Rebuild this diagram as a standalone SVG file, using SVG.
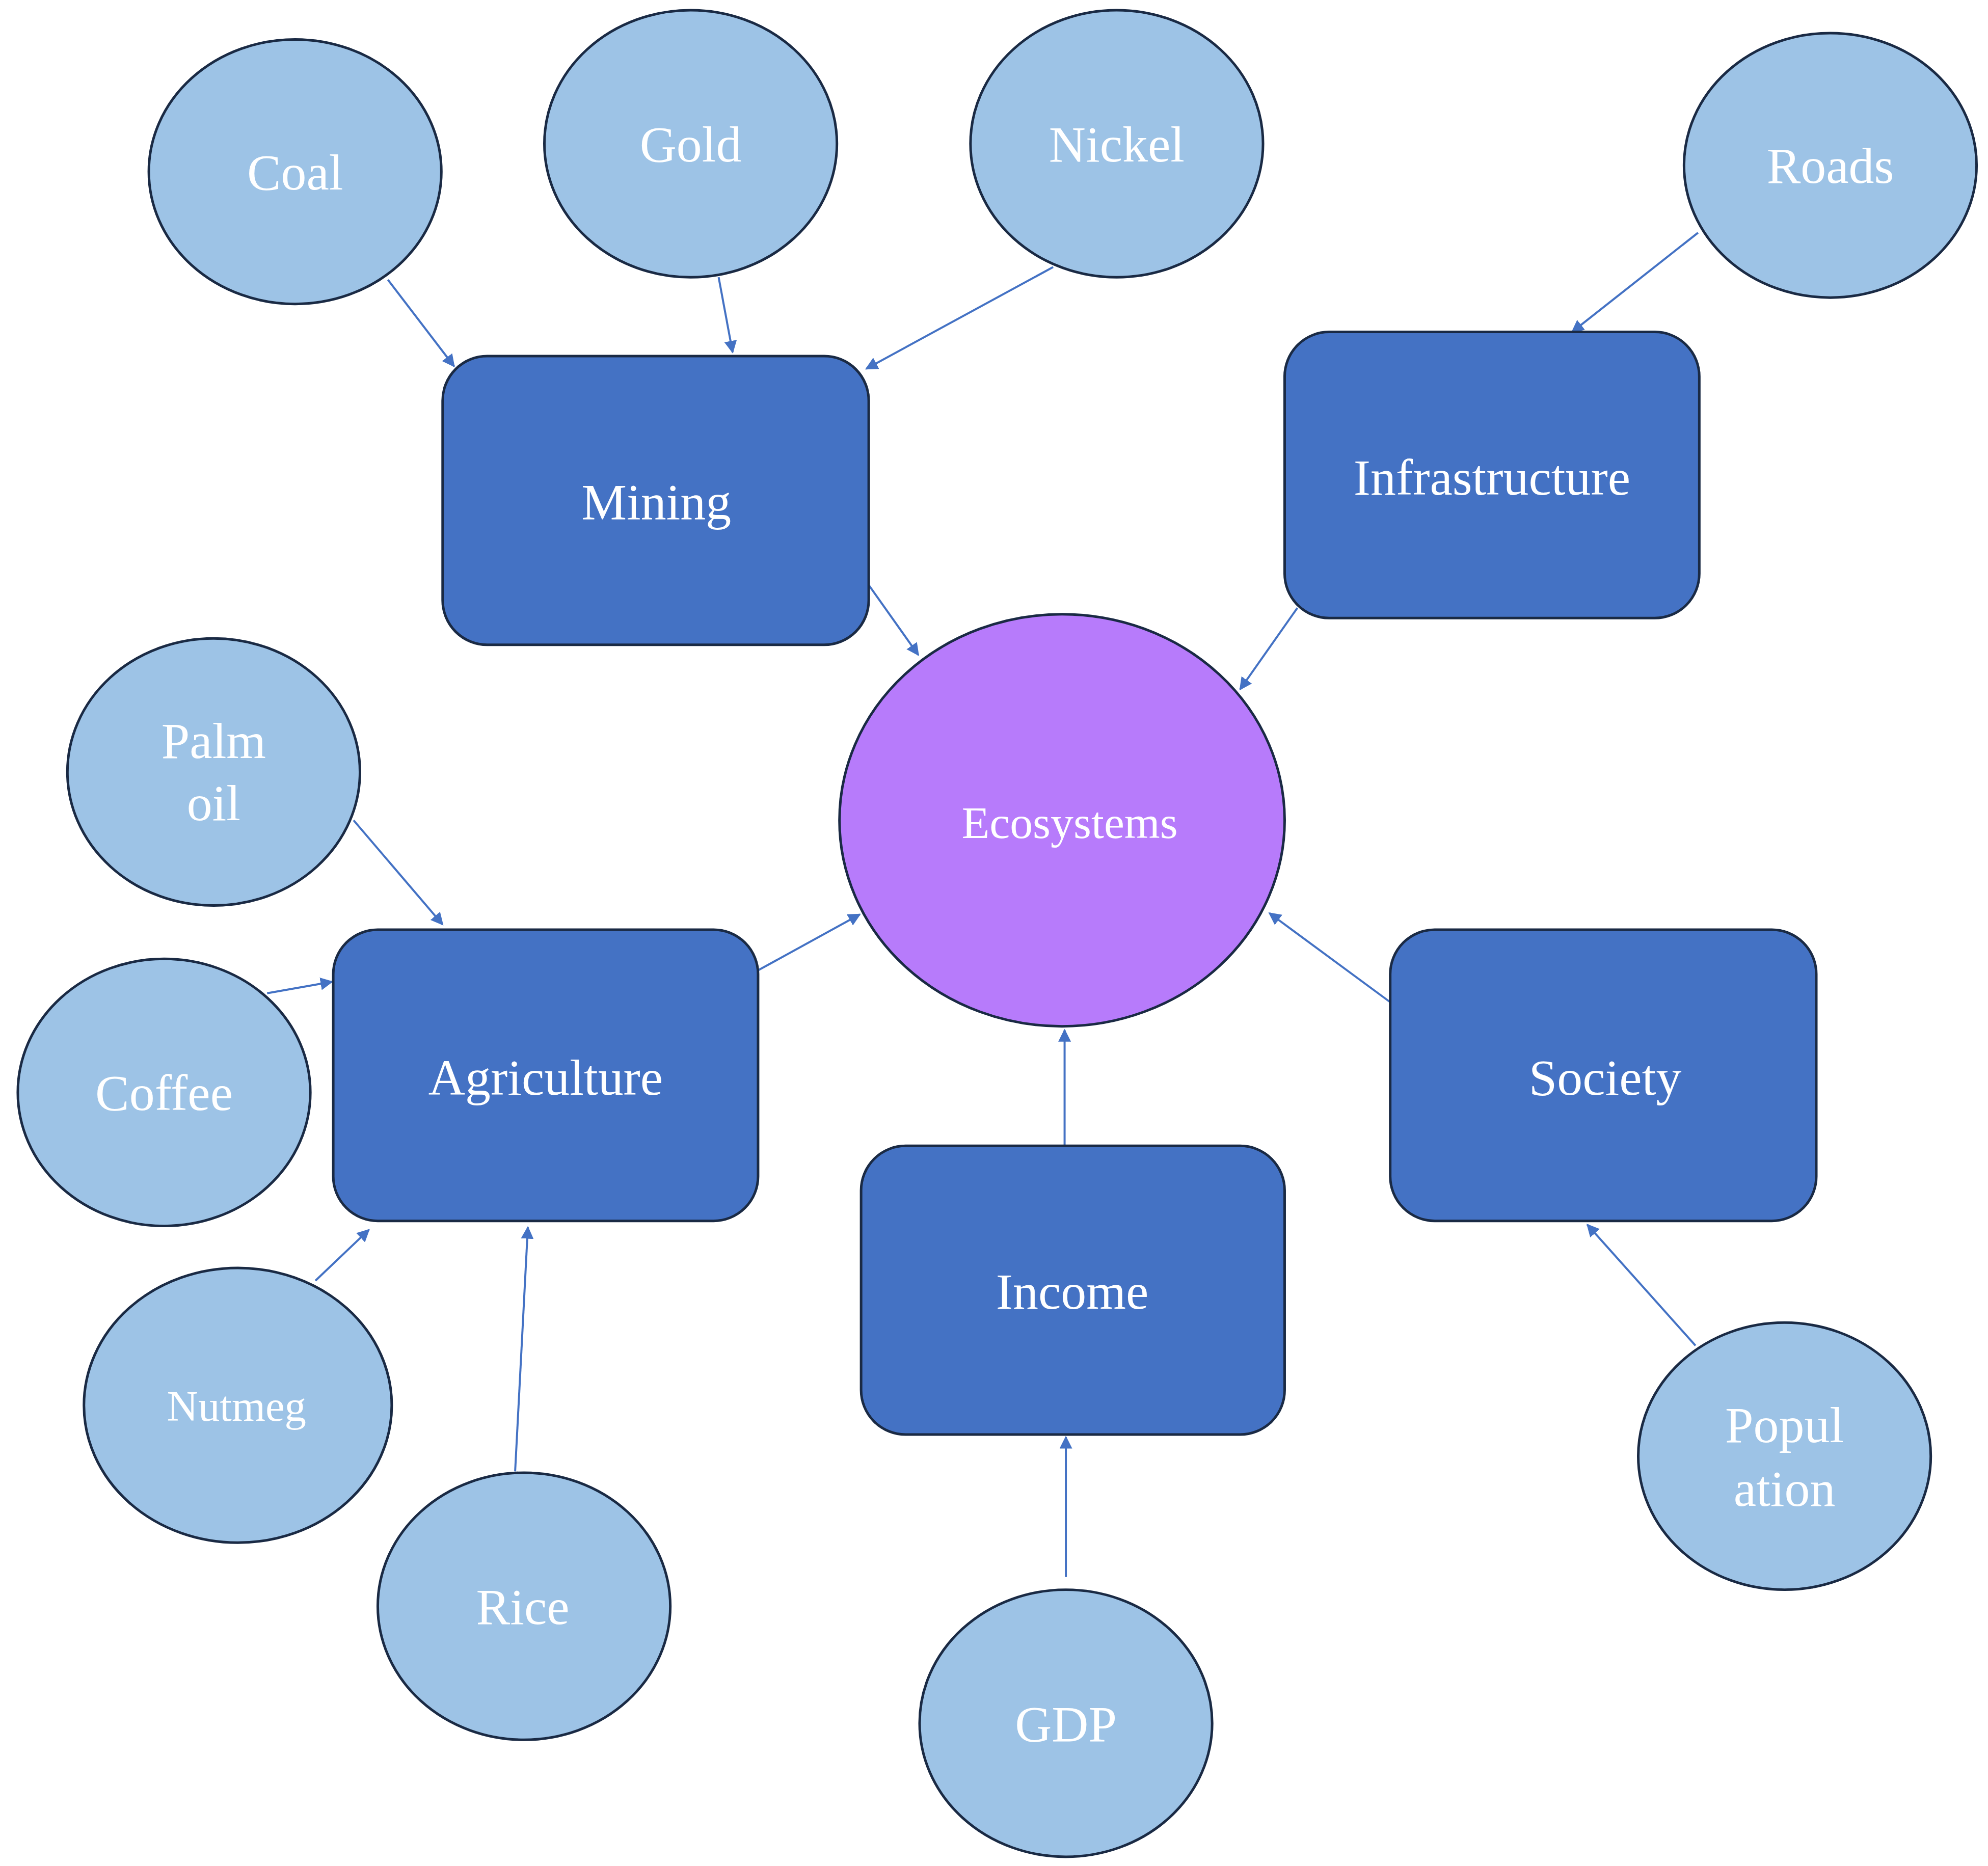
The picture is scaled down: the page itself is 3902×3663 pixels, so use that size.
<svg xmlns="http://www.w3.org/2000/svg" width="3902" height="3663" viewBox="0 0 3902 3663">
<style>
.c{fill:#9DC3E6;stroke:#1A2A44;stroke-width:2}
.r{fill:#4472C4;stroke:#1A2A44;stroke-width:2}
.e{fill:#B77BFB;stroke:#1A2A44;stroke-width:2}
text{font-family:"Liberation Serif",serif;fill:#fff;text-anchor:middle;font-size:40px}
.a{stroke:#4472C4;stroke-width:1.6;fill:none;marker-end:url(#m)}
</style>
<defs><marker id="m" markerWidth="10" markerHeight="10" refX="9" refY="5" orient="auto" markerUnits="userSpaceOnUse"><path d="M0,0L10,5L0,10z" fill="#4472C4"/></marker></defs>
<rect width="3902" height="3663" fill="#fff"/>
<g transform="scale(2.4965)">
<g id="connectors">
<line class="a" x1="305" y1="220" x2="357" y2="288"/>
<line class="a" x1="565" y1="218" x2="576" y2="277"/>
<line class="a" x1="828" y1="210" x2="681" y2="290"/>
<line class="a" x1="1335" y1="183" x2="1236" y2="261"/>
<line class="a" x1="683" y1="460" x2="722" y2="515"/>
<line class="a" x1="1020" y1="478" x2="975" y2="542"/>
<line class="a" x1="278" y1="645" x2="348" y2="727"/>
<line class="a" x1="210" y1="781" x2="261" y2="772"/>
<line class="a" x1="248" y1="1007" x2="290" y2="967"/>
<line class="a" x1="405" y1="1157" x2="415" y2="965"/>
<line class="a" x1="596" y1="763" x2="676" y2="719"/>
<line class="a" x1="837" y1="901" x2="837" y2="810"/>
<line class="a" x1="838" y1="1240" x2="838" y2="1130"/>
<line class="a" x1="1093" y1="788" x2="998" y2="718"/>
<line class="a" x1="1333" y1="1058" x2="1248" y2="963"/>
</g>
<g id="coal"><ellipse class="c" cx="232" cy="135" rx="115" ry="104"/><text x="232" y="149">Coal</text></g>
<g id="gold"><ellipse class="c" cx="543" cy="113" rx="115" ry="105"/><text x="543" y="127">Gold</text></g>
<g id="nickel"><ellipse class="c" cx="878" cy="113" rx="115" ry="105"/><text x="878" y="127">Nickel</text></g>
<g id="roads"><ellipse class="c" cx="1439" cy="130" rx="115" ry="104"/><text x="1439" y="144">Roads</text></g>
<g id="mining"><rect class="r" x="348" y="280" width="335" height="227" rx="35"/><text x="516" y="408">Mining</text></g>
<g id="infrastructure"><rect class="r" x="1010" y="261" width="326" height="225" rx="35"/><text x="1173" y="389">Infrastructure</text></g>
<g id="ecosystems"><ellipse class="e" cx="835" cy="645" rx="175" ry="162"/><text x="841" y="659" style="font-size:36px">Ecosystems</text></g>
<g id="palmoil"><ellipse class="c" cx="168" cy="607" rx="115" ry="105"/><text x="168" y="596">Palm</text><text x="168" y="645">oil</text></g>
<g id="coffee"><ellipse class="c" cx="129" cy="859" rx="115" ry="105"/><text x="129" y="873">Coffee</text></g>
<g id="agriculture"><rect class="r" x="262" y="731" width="334" height="229" rx="35"/><text x="429" y="861">Agriculture</text></g>
<g id="nutmeg"><ellipse class="c" cx="187" cy="1105" rx="121" ry="108"/><text x="186" y="1117" style="font-size:34px">Nutmeg</text></g>
<g id="rice"><ellipse class="c" cx="412" cy="1263" rx="115" ry="105"/><text x="411" y="1277">Rice</text></g>
<g id="income"><rect class="r" x="677" y="901" width="333" height="227" rx="35"/><text x="843" y="1029">Income</text></g>
<g id="gdp"><ellipse class="c" cx="838" cy="1355" rx="115" ry="105"/><text x="838" y="1369">GDP</text></g>
<g id="society"><rect class="r" x="1093" y="731" width="335" height="229" rx="35"/><text x="1262" y="861">Society</text></g>
<g id="population"><ellipse class="c" cx="1403" cy="1145" rx="115" ry="105"/><text x="1403" y="1134">Popul</text><text x="1403" y="1184">ation</text></g>
</g>
</svg>
